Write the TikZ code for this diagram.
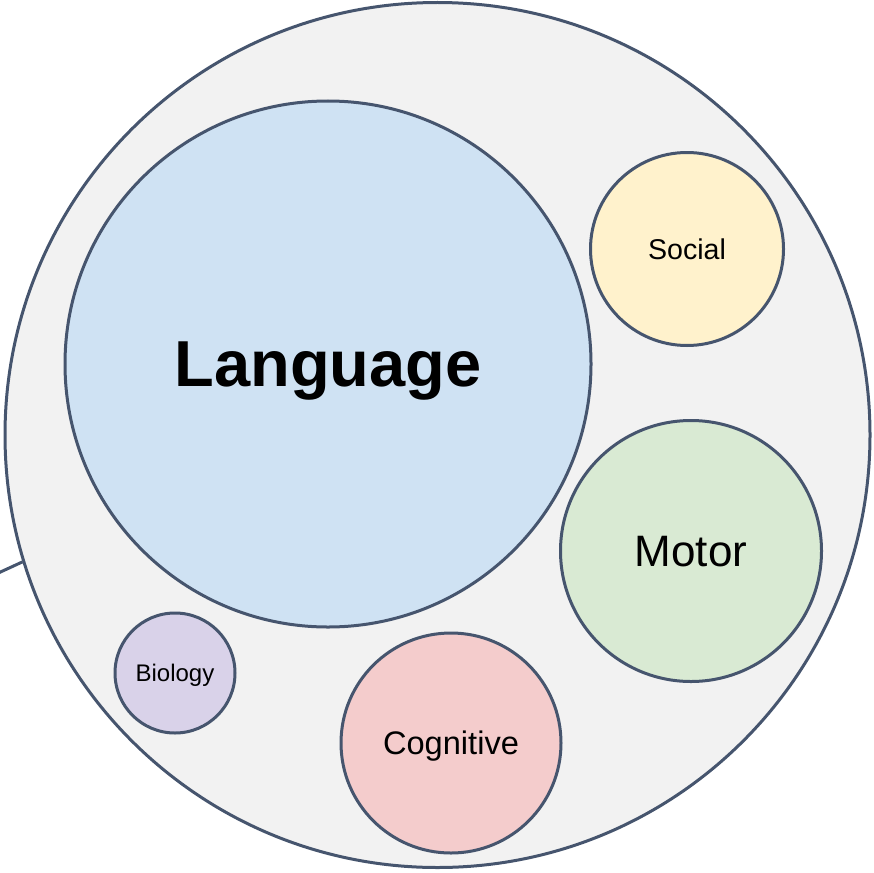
\documentclass[tikz,border=0pt]{standalone}
\usepackage{fontspec}
\setmainfont{Liberation Sans}
\usetikzlibrary{positioning}

\definecolor{edge}{HTML}{46556E}
\definecolor{outerfill}{HTML}{F2F2F2}
\definecolor{langfill}{HTML}{CFE2F3}
\definecolor{socialfill}{HTML}{FFF2CC}
\definecolor{motorfill}{HTML}{D9EAD3}
\definecolor{cogfill}{HTML}{F4CCCC}
\definecolor{biofill}{HTML}{D9D2E9}

\begin{document}
\begin{tikzpicture}[
    x=1pt, y=-1pt,
    bubble/.style={circle, draw=edge, line width=3pt, inner sep=0pt, align=center, text depth=0pt},
    link/.style={draw=edge, line width=3pt},
]
\useasboundingbox (0,0) rectangle (874,872);

\node[bubble, fill=outerfill, minimum size=865] (outer) at (437.5,435) {};

\node[bubble, fill=langfill, minimum size=526, font=\fontsize{65}{70}\selectfont\bfseries] (language) at (328,364) {Language};
\node[bubble, fill=socialfill, minimum size=193, font=\fontsize{28.6}{32}\selectfont] (social) at (687,249) {Social};
\node[bubble, fill=motorfill, minimum size=261, font=\fontsize{44}{48}\selectfont] (motor) at (691,551) {Motor};
\node[bubble, fill=cogfill, minimum size=220, font=\fontsize{32.6}{36}\selectfont] (cognitive) at (451,743) {Cognitive};
\node[bubble, fill=biofill, minimum size=120, font=\fontsize{24}{28}\selectfont] (biology) at (175,673) {Biology};

\coordinate (tail) at (-30,586);
\draw[link] (tail) -- (outer.197);

\end{tikzpicture}
\end{document}
